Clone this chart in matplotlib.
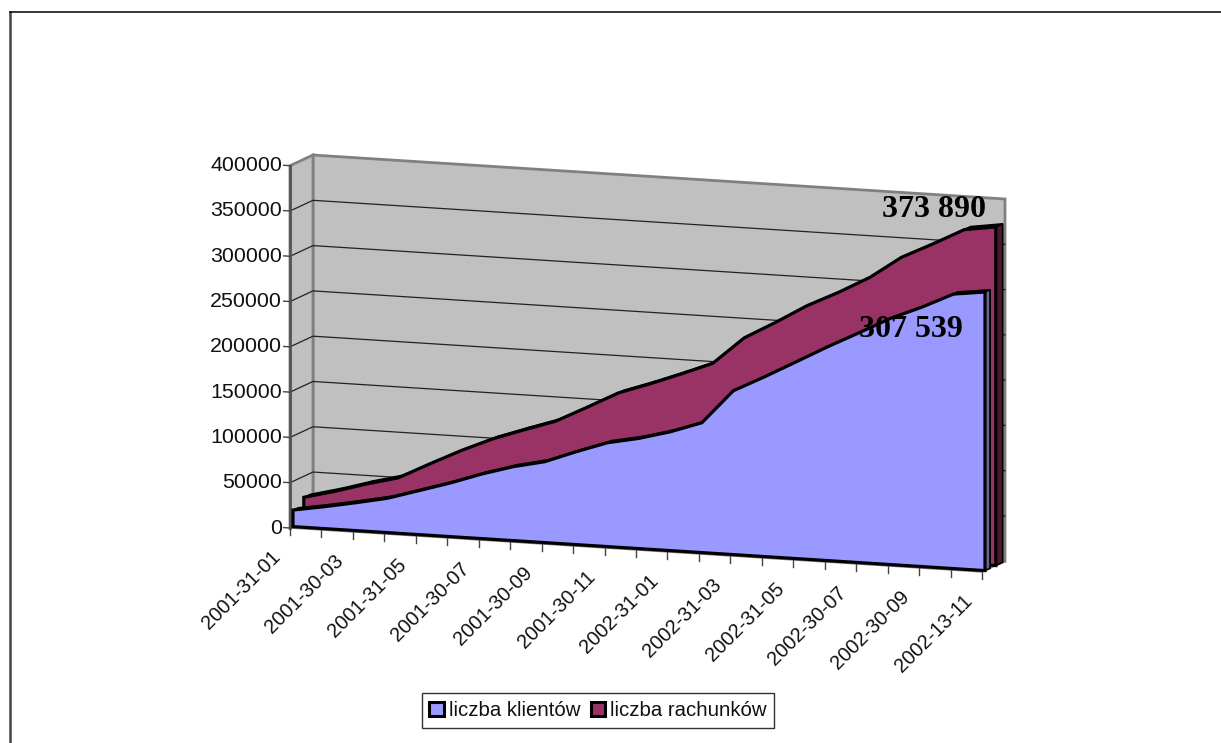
import numpy as np
import matplotlib
matplotlib.use('Agg')
import matplotlib.pyplot as plt
from matplotlib.patches import Patch, Polygon
from matplotlib.lines import Line2D
from matplotlib.transforms import Affine2D

dates = ['2001-31-01', '2001-30-03', '2001-31-05', '2001-30-07', '2001-30-09', '2001-30-11',
         '2002-31-01', '2002-31-03', '2002-31-05', '2002-30-07', '2002-30-09', '2002-13-11']
klienci = [18300, 24200, 30800, 37900, 48500, 59200, 71300, 81600, 89300, 102500, 114700, 121700,
           131200, 143400, 180900, 198600, 217300, 236100, 253800, 271900, 286500, 303100, 307539]
rachunki = [26800, 35700, 46000, 54900, 72500, 89400, 104500, 116700, 128400, 146000, 164100, 176300,
            189500, 203400, 233700, 253100, 273700, 290600, 309400, 333700, 350700, 368700, 373890]
y_ticks = [0, 50000, 100000, 150000, 200000, 250000, 300000, 350000, 400000]

W, H = 1221, 743
# how the fake 3d is set up: a shear for the downhill x axis, plus a shift for depth
SLOPE = 2207.0
DEPTH_I = 0.731
DEPTH_V = 13400.0


def at_depth(i, v, d):
    return np.asarray(i) + d * DEPTH_I, np.asarray(v) + d * DEPTH_V


def quad(ax, i0, v0, i1, v1, d0, d1, **kw):
    x0, y0 = at_depth([i0, i1], [v0, v1], d0)
    x1, y1 = at_depth([i1, i0], [v1, v0], d1)
    xy = np.column_stack([np.r_[x0, x1], np.r_[y0, y1]])
    ax.add_patch(Polygon(xy, closed=True, transform=front, clip_on=False, **kw))


def area(ax, values, d0, d1, color, side, z):
    n = len(values)
    idx = np.arange(n)
    # top surface, segment by segment
    for k in range(n - 1):
        quad(ax, idx[k], values[k], idx[k + 1], values[k + 1], d0, d1,
             facecolor='black', edgecolor='black', lw=1.0, zorder=z)
    # right hand end
    quad(ax, n - 1, 0, n - 1, values[-1], d0, d1, facecolor=side, edgecolor='black', lw=1.3, zorder=z)
    # front face
    x, y = at_depth(np.r_[idx, n - 1, 0], np.r_[values, 0, 0], d0)
    ax.add_patch(Polygon(np.column_stack([x, y]), closed=True, transform=front, clip_on=False,
                         facecolor=color, edgecolor='black', lw=2.3, joinstyle='miter', zorder=z + 1))


fig = plt.figure(figsize=(W / 100, H / 100), dpi=100)
plt.rcParams['font.family'] = 'Liberation Sans'
# outer frame: only the top and left sides show in the source picture
fig.add_artist(Line2D([10 / W, 10 / W], [0, 1 - 12 / H], color='#444444', lw=1.8, transform=fig.transFigure))
fig.add_artist(Line2D([10 / W, 1], [1 - 12 / H, 1 - 12 / H], color='black', lw=1.1, transform=fig.transFigure))

ax = fig.add_axes([290 / W, (H - 528) / H, 692 / W, 362.3 / H])
ax.set_xlim(0, 22)
ax.set_ylim(0, 400000)
ax.axis('off')
front = Affine2D.from_values(1, -SLOPE, 0, 1, 0, 0) + ax.transData

n = len(klienci)
top = y_ticks[-1]

# back wall, side wall, floor
x, y = at_depth([0, 22, 22, 0], [0, 0, top, top], 1)
ax.add_patch(Polygon(np.column_stack([x, y]), transform=front, facecolor='#c0c0c0', edgecolor='#808080',
                     lw=2, clip_on=False, zorder=1))
quad(ax, 0, 0, 0, top, 0, 1, facecolor='#c0c0c0', edgecolor='#808080', lw=2, zorder=1)
quad(ax, 0, 0, 22, 0, 0, 1, facecolor='white', edgecolor='#808080', lw=1, zorder=1)

# gridlines run along the wall and round the corner
for v in y_ticks[1:-1]:
    xa, ya = at_depth([0, 0], [v, v], 0)
    xb, yb = at_depth([0, 22], [v, v], 1)
    ax.plot([xa[0], xb[0], xb[1]], [ya[0], yb[0], yb[1]], color='#222222', lw=0.9,
            transform=front, clip_on=False, zorder=2)
ax.plot([0, 0], [0, top], color='#555555', lw=2, transform=front, clip_on=False, zorder=2)

area(ax, rachunki, 0.6, 0.9, '#993366', '#4a1a33', 3)
area(ax, klienci, 0.13, 0.35, '#9999ff', '#666699', 5)

# ticks
for v in y_ticks:
    ax.plot([-0.2, 0], [v, v], color='#444444', lw=1, transform=front, clip_on=False, zorder=7)
    ax.annotate(str(v), (0, v), xycoords=front, xytext=(-8, 0), textcoords='offset pixels',
                ha='right', va='center', fontsize=15.4, color='#111111', zorder=8)
for i in range(n):
    ax.plot([i, i], [0, -7500], color='#444444', lw=1, transform=front, clip_on=False, zorder=7)
for i, d in zip(range(0, n, 2), dates):
    ax.annotate(d, (i, 0), xycoords=front, xytext=(-19, -19), textcoords='offset pixels', ha='right',
                va='top', rotation=45, rotation_mode='anchor', fontsize=14.4, color='#111111', zorder=8)

# value labels
ax.annotate('373 890', (22, rachunki[-1]), xycoords=front, xytext=(-48, 24), textcoords='offset pixels',
            ha='center', va='center', family='Liberation Serif', weight='bold', fontsize=23, zorder=9)
ax.annotate('307 539', (22, klienci[-1]), xycoords=front, xytext=(-71, -36), textcoords='offset pixels',
            ha='center', va='center', family='Liberation Serif', weight='bold', fontsize=23, zorder=9)

handles = [Patch(facecolor='#9999ff', edgecolor='black', lw=2.2, label='liczba klientów'),
           Patch(facecolor='#993366', edgecolor='black', lw=2.2, label='liczba rachunków')]
fig.legend(handles=handles, loc='center', bbox_to_anchor=(598 / W, 1 - 710.5 / H), ncol=2, fontsize=14.7,
           frameon=True, fancybox=False, edgecolor='#333333', framealpha=1, handlelength=0.7, handleheight=0.7,
           handletextpad=0.25, columnspacing=0.5, borderpad=0.38, labelcolor='#111111')

fig.savefig('out.png', dpi=100)
